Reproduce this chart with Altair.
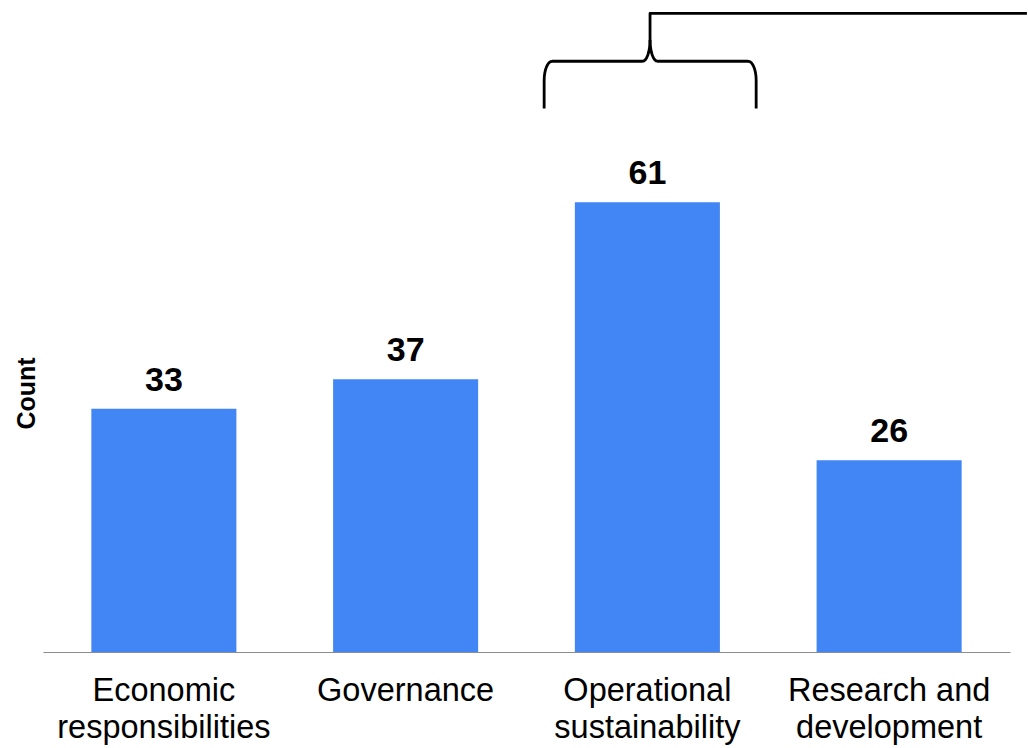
import math
import altair as alt
import pandas as pd

# Bar data
categories = [
    "Economic responsibilities",
    "Governance",
    "Operational sustainability",
    "Research and development",
]
label_lines = [
    ["Economic", "responsibilities"],
    ["Governance"],
    ["Operational", "sustainability"],
    ["Research and", "development"],
]
counts = [33, 37, 61, 26]

FONT = "Liberation Sans"
BLUE = "#4285F4"
W, H = 967, 649
Y_MAX = 88

bars_df = pd.DataFrame({"category": categories, "count": counts})

# Label expression: wrap category names onto two lines
label_map = {c: l for c, l in zip(categories, label_lines)}
label_expr = "{" + ", ".join(
    f"'{c}': [{', '.join(repr(s) for s in l)}]" for c, l in label_map.items()
) + "}[datum.value]"

x_band = alt.X(
    "category:N",
    sort=categories,
    scale=alt.Scale(paddingInner=0.4, paddingOuter=0.2),
    axis=alt.Axis(
        title=None,
        labelAngle=0,
        labelFont=FONT,
        labelFontSize=32.5,
        labelColor="#000000",
        labelPadding=22,
        labelLineHeight=37,
        labelLimit=0,
        labelExpr=label_expr,
        ticks=False,
        domainColor="#8c8c8c",
        domainWidth=1.2,
        grid=False,
    ),
)
y_axis = alt.Axis(
    title="Count",
    titleFont=FONT,
    titleFontSize=25,
    titleFontWeight="bold",
    titleColor="#000000",
    titleAngle=270,
    titleX=-4,
    titleY=390,
    titleAlign="center",
    titleBaseline="bottom",
    labels=False,
    ticks=False,
    domain=False,
    grid=False,
)
y_scale = alt.Scale(domain=[0, Y_MAX], nice=False, zero=True)
y_lin = alt.Y("count:Q", scale=y_scale, axis=y_axis)

no_frame = alt.ViewBackground(stroke="transparent", strokeWidth=0)

bars = alt.Chart(bars_df).mark_bar(color=BLUE).encode(x=x_band, y=y_lin)
values = alt.Chart(bars_df).mark_text(
    font=FONT, fontSize=34, fontWeight="bold", color="#000000",
    baseline="alphabetic", dy=-18,
).encode(x=x_band, y=y_lin, text="count:Q")

# Curly brace over the "Operational sustainability" bar, in band units
# (band i is centred at i + 0.5 on a 0..4 linear scale), with a leader line
brace_left, brace_right, brace_mid = 2.073, 2.95, 2.511
brace_bottom, brace_arm, brace_bar, brace_cusp, brace_top = 73.7, 77.5, 80.1, 83.0, 86.6
leader_end = 4.07


def quarter(cx, cy, rx, ry, fx, fy, n=8):
    pts = []
    for k in range(n + 1):
        t = math.pi / 2 * k / n
        pts.append((cx + fx(t) * rx, cy + fy(t) * ry))
    return pts


rx_c, rx_k = 0.033, 0.031
ry_c = brace_bar - brace_arm
ry_k = brace_cusp - brace_bar

left = [(brace_left, brace_bottom)]
left += quarter(brace_left + rx_c, brace_arm, rx_c, ry_c,
                lambda t: -math.cos(t), lambda t: math.sin(t))
left += quarter(brace_mid - rx_k, brace_cusp, rx_k, ry_k,
                lambda t: math.sin(t), lambda t: -math.cos(t))
left += [(brace_mid, brace_top), (leader_end, brace_top)]

right = [(brace_right, brace_bottom)]
right += quarter(brace_right - rx_c, brace_arm, rx_c, ry_c,
                 lambda t: math.cos(t), lambda t: math.sin(t))
right += quarter(brace_mid + rx_k, brace_cusp, rx_k, ry_k,
                 lambda t: -math.sin(t), lambda t: -math.cos(t))

rows = []
for name, pts in (("left", left), ("right", right)):
    for i, (px, py) in enumerate(pts):
        rows.append({"part": name, "ord": i, "bx": px, "by": py})
brace_df = pd.DataFrame(rows)

brace = alt.Chart(brace_df).mark_line(
    color="#000000", strokeWidth=2.8, clip=False, strokeJoin="round"
).encode(
    x=alt.X("bx:Q", scale=alt.Scale(domain=[0, 4], nice=False, zero=False), axis=None),
    y=alt.Y("by:Q", scale=y_scale, axis=y_axis),
    detail="part:N",
    order="ord:Q",
)

chart = (
    alt.layer(alt.layer(bars, values).properties(view=no_frame), brace)
    .resolve_scale(x="independent")
    .properties(
        width=W,
        height=H,
        view=no_frame,
        autosize=alt.AutoSizeParams(type="none"),
        padding={"left": 43, "top": 3, "right": 18, "bottom": 96},
    )
    .configure_view(strokeWidth=0, stroke="transparent")
    .configure(background="#ffffff")
)

chart.save("out.html", embed_options={"renderer": "svg", "actions": False})
